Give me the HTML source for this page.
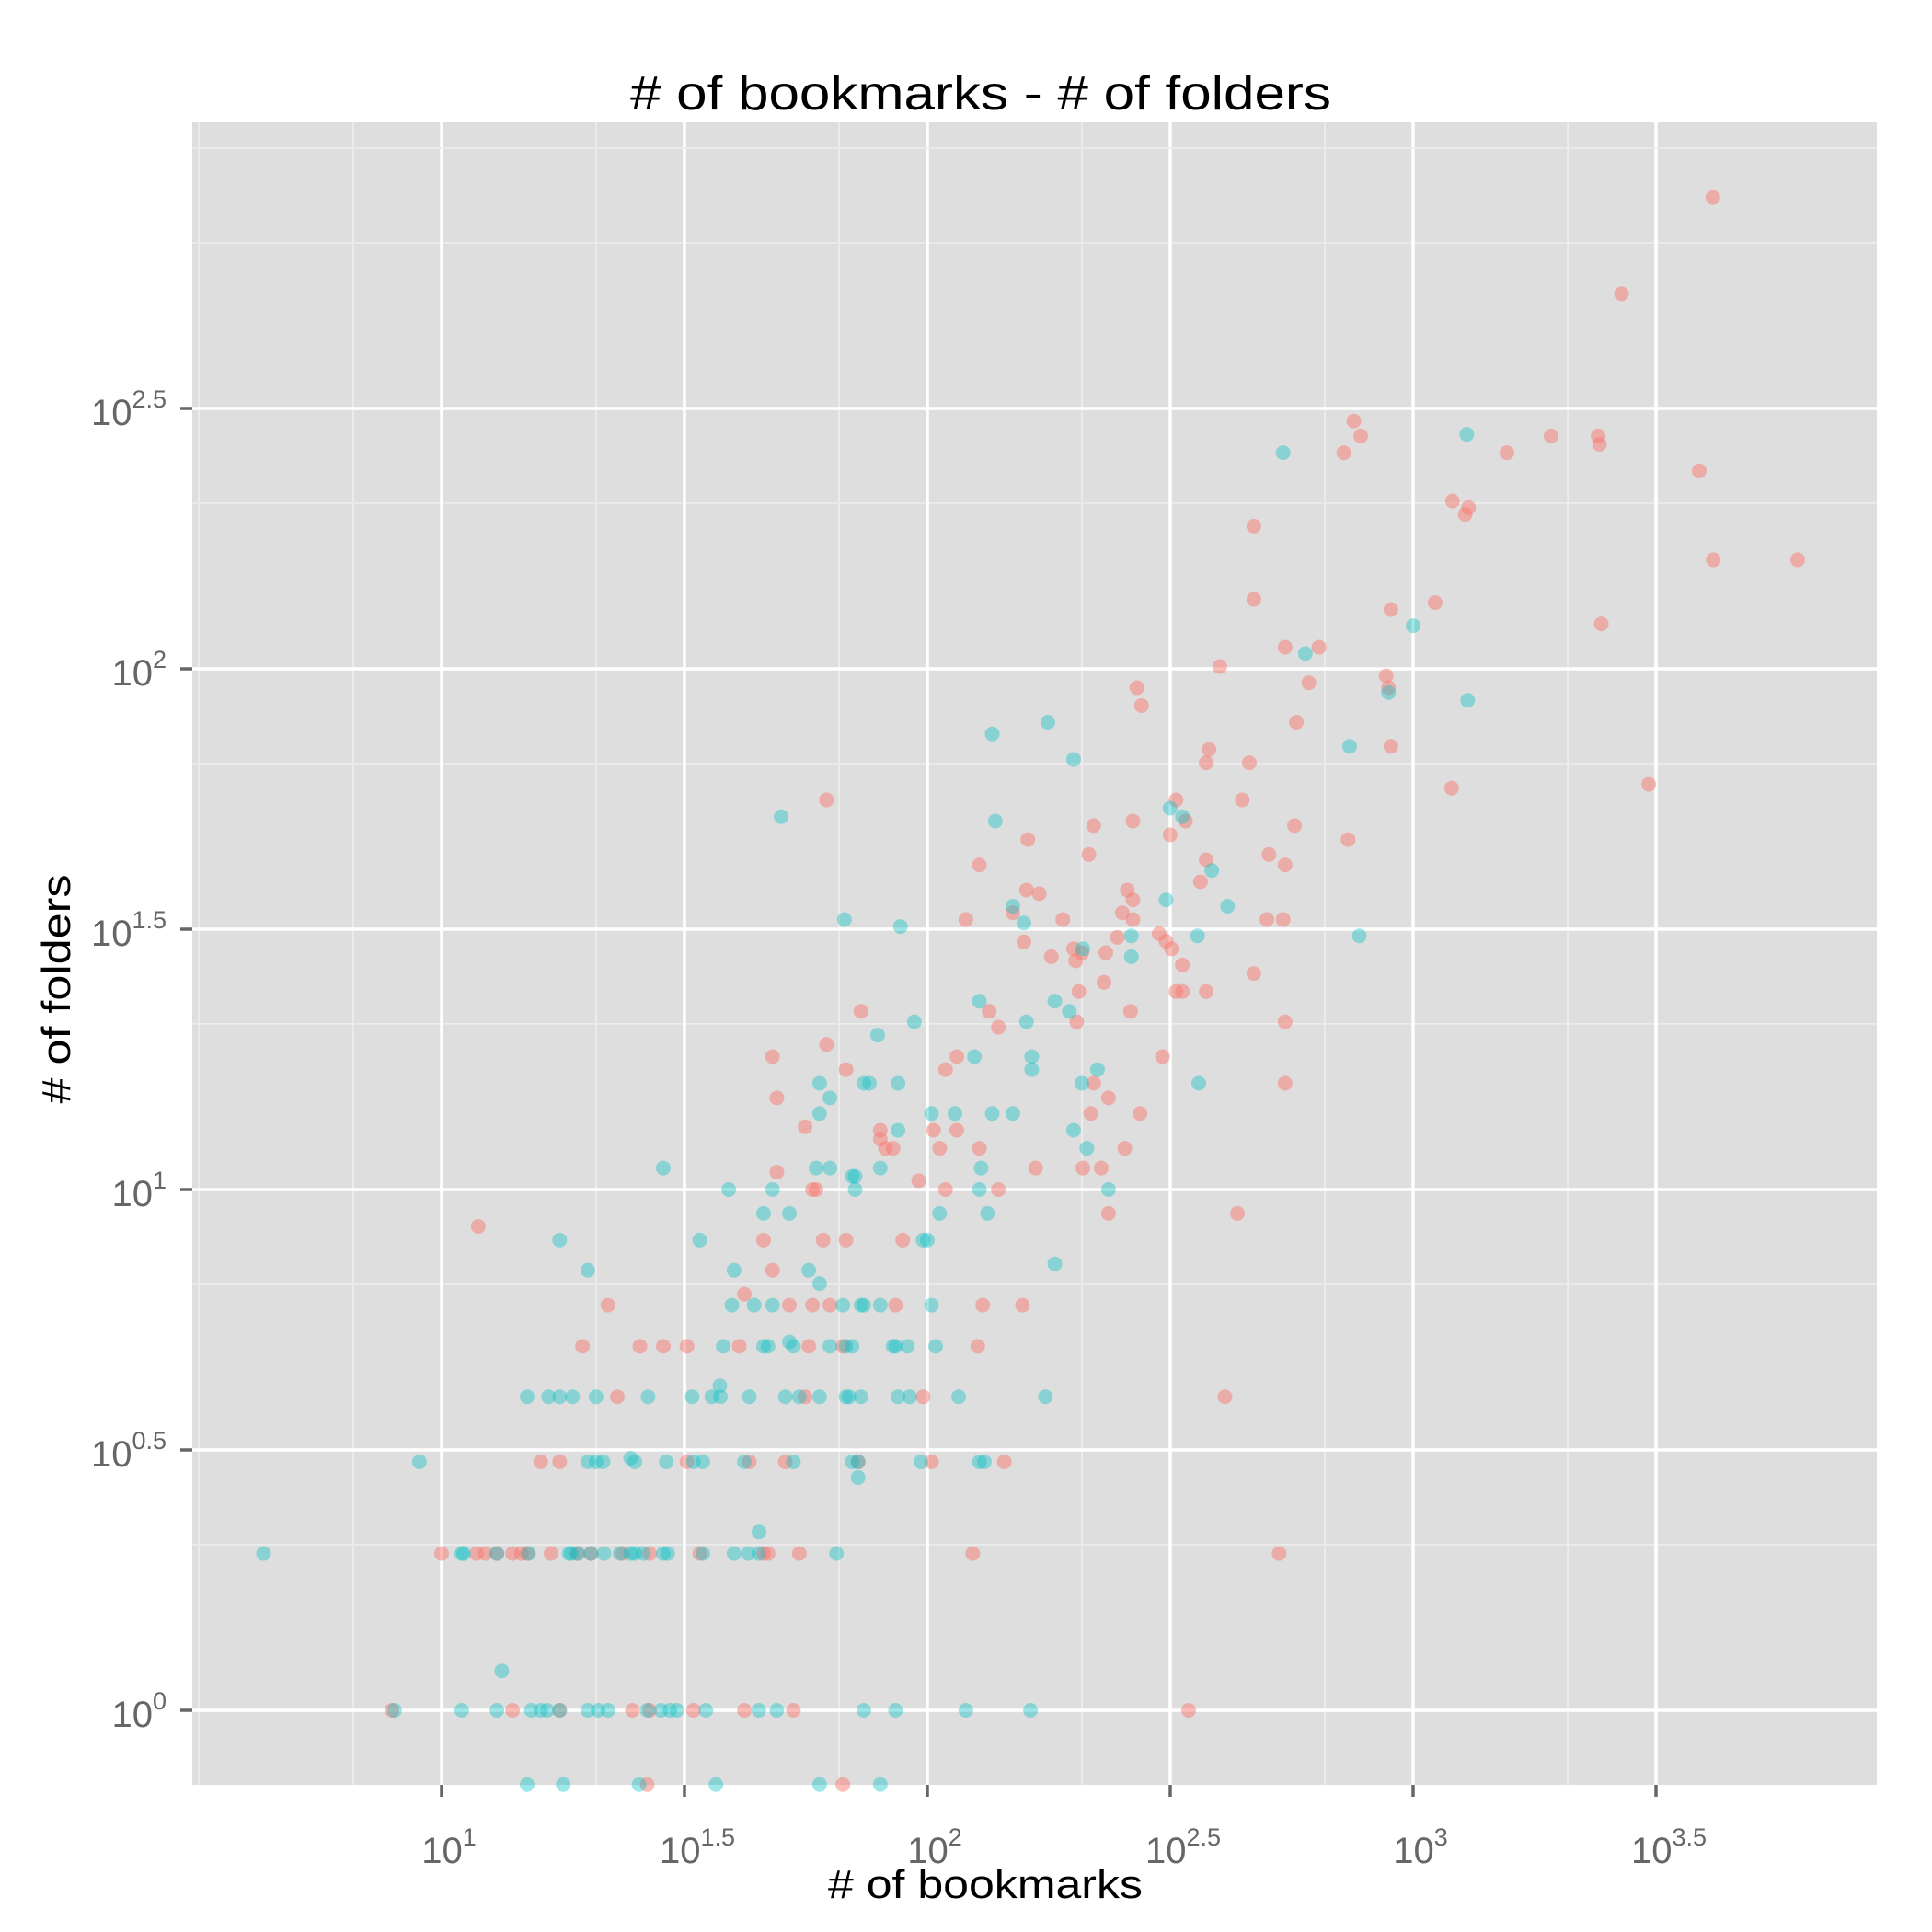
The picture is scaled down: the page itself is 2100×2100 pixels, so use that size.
<!DOCTYPE html>
<html><head><meta charset="utf-8"><style>
html,body{margin:0;padding:0;background:#fff;}
svg{display:block;font-family:"Liberation Sans",Arial,sans-serif;}
</style></head><body>
<svg id="chart" width="2100" height="2100" viewBox="0 0 2100 2100" xmlns="http://www.w3.org/2000/svg">
<rect x="0" y="0" width="2100" height="2100" fill="#ffffff"/>
<rect x="209" y="133" width="1831" height="1807" fill="#dedede"/>
<g id="grid"></g>
<g id="points"></g>
<g id="axes"></g>
<text x="1066" y="119" font-size="52" text-anchor="middle" textLength="762" lengthAdjust="spacingAndGlyphs" fill="#000">&#35; of bookmarks - &#35; of folders</text>
<text x="1071" y="2063" font-size="44" text-anchor="middle" textLength="342" lengthAdjust="spacingAndGlyphs" fill="#000">&#35; of bookmarks</text>
<text x="0" y="0" font-size="44" text-anchor="middle" textLength="249" lengthAdjust="spacingAndGlyphs" fill="#000" transform="translate(76,1075) rotate(-90)">&#35; of folders</text>
</svg>
<script>
const redBookmarks=[4140,2685,755,780,720,1923,2404,2420,1560,3880,1205,1280,1300,470,4150,6190,470,1110,900,2440,545,640,400,270,276,610,880,890,575,900,380,375,460,3055,1200,62,325,445,735,570,220,265,340,316,161,505,375,215,545,128,365,258,170,160,265,252,265,150,190,120,500,540,300,246,158,200,310,318,233,208,180,202,335,470,231,205,325,335,375,262,134,203,545,73,140,62,48,305,115,109,68,220,49,545,236,274,217,56,80,103,115,80,82,85,106,128,255,209,228,167,49,96,58,59,109,140,435,236,11.9,61,68,46,89,48,42,22,63,130,157,86,58,52,19.5,25.6,28.6,32,41,57,127,67,23,56,98,410,16,17.5,32,43,51,72,102,144,10,11.8,12.3,13,14,14.6,15,16.8,19,20.3,23.6,26.8,34,46,47,54.5,124,530,7.9,14,17.5,24.7,26.8,33,42,53,345,26.5,67];
const redFolders=[804,525,299,280,260,280,280,270,260,240,210,198,204,188,162,162,136,134,130,122,110,110,101,92,85,94,97,92,79,71,70,66,66,60,59,56,56,56,47,50,50,51,51,48,47,44,43,44,42,42,39,37.6,37,37.6,36,34,33,34,33,33,33,33,31,30.5,29.9,29,30,29,28.5,28.5,28,27.5,27,26,25,24,24,24,24,22,22,21,21,22,20.5,19,18,18,18,17,17,16,15,16,15,14,14,13.2,13,13,13,12.5,12,12,12,12,12,11,11,11,10.8,10.4,10,10,10,10,9,9,8.5,8,8,8,8,7,6.3,6,6,6,6,6,6,6,5,5,5,5,5,5,5,5,4,4,4,4,3,3,3,3,3,3,3,3,2,2,2,2,2,2,2,2,2,2,2,2,2,2,2,2,2,2,1,1,1,1,1,1,1,1,1,0.72,0.72];
const tealBookmarks=[540,1290,1000,600,890,1295,740,177,200,136,50,138,316,335,385,415,775,360,310,158,150,67.5,88,263,263,209,183,196,128,160,94,79,164,125,224,164,74,76,208,362,60,63,87,102,136,150,114,60,87,200,213,129,28.6,59,63,70,71,80,48,39,71,128,236,106,133,46,52,34,17.5,100,98,40,20,183,60,57,44,39.6,48,67,73,74,80,102,52,38,46,47,53,63,68,70,86,91,104,85,15,16.6,18.6,20.8,26.6,32.8,36,37.5,43,51,54.5,60,68,69,73,87,92,116,175,37.4,17.5,9,20,20.8,21.5,24.5,25,29,33,34.5,42,53,70,72,72,97,128,131,45,4.3,11,11.1,13,15.1,18.3,18.5,19.1,20.3,21.6,23.3,24.5,25,26,28.6,29.2,34.5,40,42.8,45,65,13.3,11,13,15.3,16,16.5,17.5,20,21,22,26.5,28.3,29.5,30.5,35,45,49,74,86,120,163,8,15,17.8,25.5,36.7,60,80];
const tealFolders=[260,282,121,107,90,87,71,79,67,75,52,51,54,52,41,35,30.7,30.7,36,32.5,35,33,32,30.7,28,29,23,22,23,21,21,19.8,18,18,17,17,16,16,16,16,16,15,16,14,14,14,14,14,13,13,12,11,11,11,11,10.6,10.6,11,10,10,10,10,10,9,9,9,9,8,8,8,8,7,7,7.2,6.6,7,6,6,6,6,6,6,6,6,5.1,5,5,5,5,5,5,5,5,5,5,5,4,4,4,4,4,4,4,4,4,4,4,4,4,4,4,4,4,4,4,4.2,4,3,3,3,3,3.05,3,3,3,3,3,3,3,3,2.8,3,3,3,2.2,2,2,2,2,2,2,2,2,2,2,2,2,2,2,2,2,2,2,2,2,2,1.19,1,1,1,1,1,1,1,1,1,1,1,1,1,1,1,1,1,1,1,1,1,0.72,0.72,0.72,0.72,0.72,0.72,0.72];
const xMajorLogs=[0.5,1,1.5,2,2.5,3,3.5];
const xTickLabels=["1","1.5","2","2.5","3","3.5"];
const yMajorLogs=[0,0.5,1,1.5,2,2.5,3];
const yTickLabels=["0","0.5","1","1.5","2","2.5"];

const NS="http://www.w3.org/2000/svg";
const PL=209,PR=2040,PT=133,PB=1940;
function xs(v){return 480+(Math.log10(v)-1)*528;}
function ys(v){return 1859-Math.log10(v)*566;}
function mk(tag,attrs,parent){const e=document.createElementNS(NS,tag);for(const k in attrs)e.setAttribute(k,attrs[k]);parent.appendChild(e);return e;}
const grid=document.getElementById('grid'),pts=document.getElementById('points'),axes=document.getElementById('axes');

for(let i=0;i<xMajorLogs.length-1;i++){
  const m=(Math.pow(10,xMajorLogs[i])+Math.pow(10,xMajorLogs[i+1]))/2, x=xs(m);
  if(x>PL&&x<PR){const l=mk('line',{x1:x,x2:x,y1:PT,y2:PB,stroke:'#ececec','stroke-width':1.8},grid);
  
  }
}
for(let i=0;i<yMajorLogs.length-1;i++){
  const m=(Math.pow(10,yMajorLogs[i])+Math.pow(10,yMajorLogs[i+1]))/2, y=ys(m);
  if(y>PT&&y<PB){const l=mk('line',{x1:PL,x2:PR,y1:y,y2:y,stroke:'#ececec','stroke-width':1.8},grid);
  
  }
}
xMajorLogs.forEach((lg,i)=>{
  const x=xs(Math.pow(10,lg)); if(x<PL||x>PR)return;
  const labeled=i>0;
  const l=mk('line',{x1:x,x2:x,y1:PT,y2:PB,stroke:labeled?'#ffffff':'#ececec','stroke-width':labeled?3.5:1.8},grid);
  
  
  if(labeled){
    const t=mk('line',{x1:x,x2:x,y1:PB,y2:PB+13,stroke:'#666','stroke-width':3.5},axes);
    
    
    const tx=mk('text',{x:x+(xTickLabels[i-1].length>1?14:8),y:2025,'font-size':40,fill:'#666','text-anchor':'middle'},axes);
    
    
    tx.appendChild(document.createTextNode('10'));
    const s=mk('tspan',{'font-size':27,dy:-19},tx); s.textContent=xTickLabels[i-1];
  }
});
yMajorLogs.forEach((lg,i)=>{
  const y=ys(Math.pow(10,lg)); if(y<PT||y>PB)return;
  const labeled=i<yTickLabels.length;
  const l=mk('line',{x1:PL,x2:PR,y1:y,y2:y,stroke:labeled?'#ffffff':'#ececec','stroke-width':labeled?3.5:1.8},grid);
  
  
  if(labeled){
    const t=mk('line',{x1:PL-13,x2:PL,y1:y,y2:y,stroke:'#666','stroke-width':3.5},axes);
    
    
    const tx=mk('text',{x:181,y:y+18,'font-size':40,fill:'#666','text-anchor':'end'},axes);
    
    
    tx.appendChild(document.createTextNode('10'));
    const s=mk('tspan',{'font-size':27,dy:-19},tx); s.textContent=yTickLabels[i];
  }
});
function drawSeries(xsArr,ysArr,color,name){
  for(let i=0;i<xsArr.length;i++){
    const c=mk('circle',{cx:xs(xsArr[i]),cy:ys(ysArr[i]),r:8,fill:color},pts);
    
    
  }
}
drawSeries(redBookmarks,redFolders,'rgba(248,118,109,0.48)','point-red');
drawSeries(tealBookmarks,tealFolders,'rgba(0,191,196,0.38)','point-teal');
</script>
</body></html>
